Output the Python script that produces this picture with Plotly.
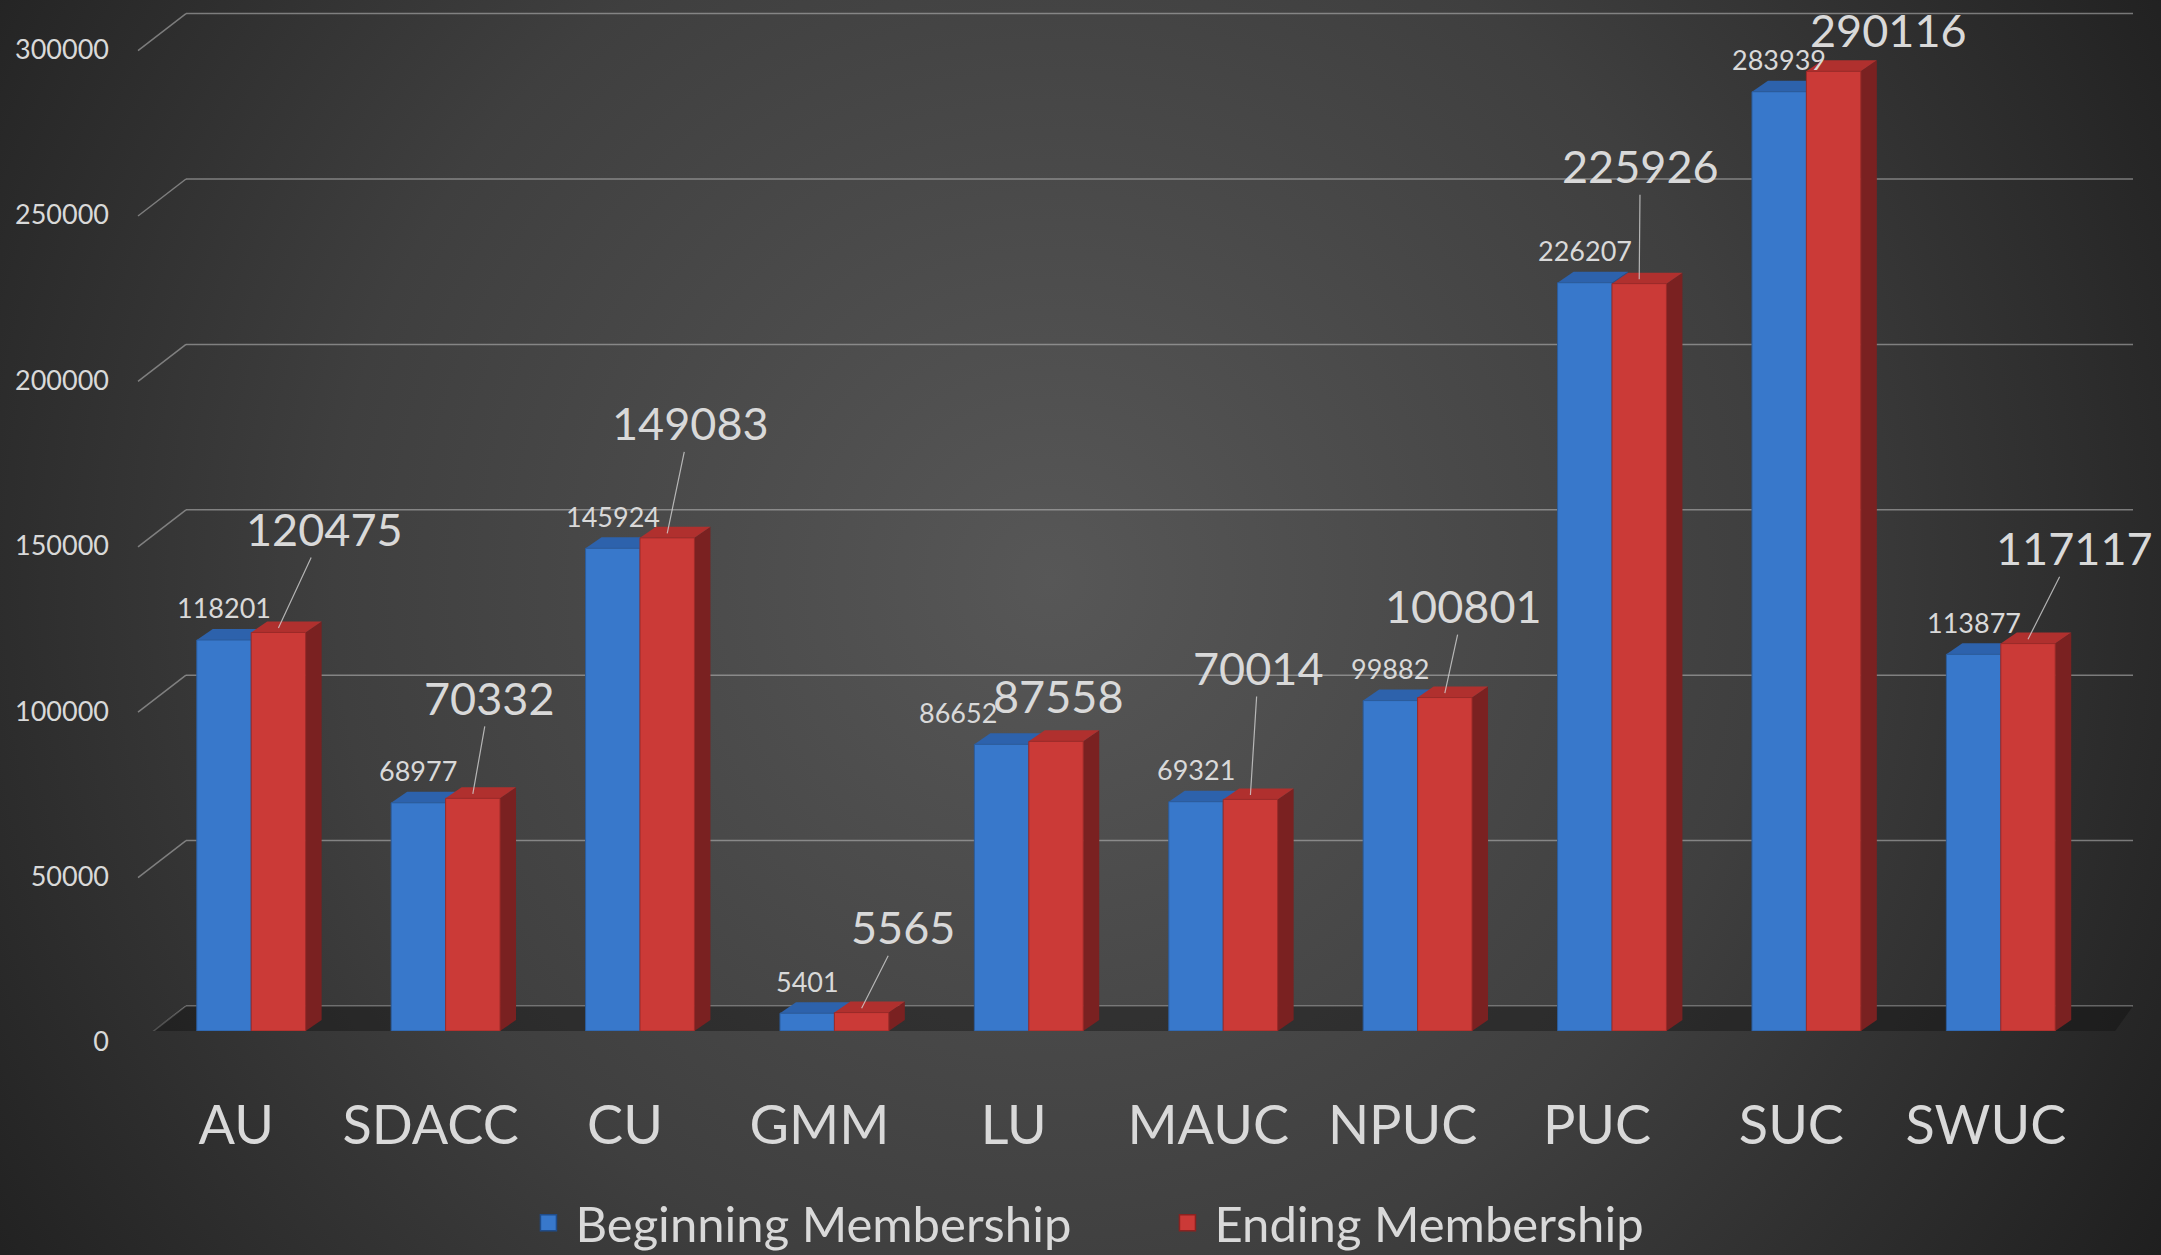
import base64
import plotly.graph_objects as go

# data
categories = ["AU", "SDACC", "CU", "GMM", "LU", "MAUC", "NPUC", "PUC", "SUC", "SWUC"]
beginning = [118201, 68977, 145924, 5401, 86652, 69321, 99882, 226207, 283939, 113877]
ending = [120475, 70332, 149083, 5565, 87558, 70014, 100801, 225926, 290116, 117117]
y_ticks = [0, 50000, 100000, 150000, 200000, 250000, 300000]

# page geometry (pixels)
W, H = 2161, 1255
XL, XR = 154, 2098          # front plot edges
Y0, PX50K = 1031, 165.4     # pixel of value 0, pixels per 50000
YMAX = 310000
YTOP = Y0 - YMAX * PX50K / 50000
px_x = (XR - XL) / len(categories)
px_y = PX50K / 50000
DX, DY = 16, 11             # 3d depth of bars in px
dxu, dyu = DX / px_x, DY / px_y
HALF = 0.14                 # half-offset of each bar in a group

BLUE, BLUE_TOP, BLUE_SIDE = "#3878CB", "#2D62AC", "#244F8C"
RED, RED_TOP, RED_SIDE = "#CB3A37", "#B0302E", "#7A2121"
TXT = "#d9d9d9"
FONT = "Lato"

# radial background
svg = f'''<svg xmlns="http://www.w3.org/2000/svg" width="{W}" height="{H}">
<defs><radialGradient id="g" gradientUnits="userSpaceOnUse" cx="1050" cy="580" r="1300">
<stop offset="0" stop-color="#575757"/><stop offset="0.55" stop-color="#3f3f3f"/>
<stop offset="1" stop-color="#1f1f1f"/></radialGradient></defs>
<rect width="{W}" height="{H}" fill="url(#g)"/></svg>'''
bg_src = "data:image/svg+xml;base64," + base64.b64encode(svg.encode()).decode()

idx = list(range(len(categories)))

fig = go.Figure()
fig.add_trace(go.Bar(x=idx, y=beginning, name="Beginning Membership", showlegend=False,
                     marker=dict(color=BLUE, line=dict(color="#2b5c9c", width=1))))
fig.add_trace(go.Bar(x=idx, y=ending, name="Ending Membership", showlegend=False,
                     marker=dict(color=RED, line=dict(color="#9c2a28", width=1))))
# legend-only entries with bigger square symbols
for name, col, edge in (("Beginning Membership", BLUE, "#1f4c8a"),
                        ("Ending Membership", RED, "#8a2220")):
    fig.add_trace(go.Scatter(x=[None], y=[None], mode="markers", name=name,
                             marker=dict(symbol="square", size=22, color=col,
                                         line=dict(color=edge, width=1.5))))

shapes = []
# back wall gridlines + diagonal connectors
back_x0, back_x1, front_x0 = 186 / W, 2133 / W, 138 / W
for v in y_ticks:
    shapes.append(dict(type="line", xref="paper", yref="y", layer="below",
                       x0=back_x0, x1=back_x1, y0=v + 25 / px_y, y1=v + 25 / px_y,
                       line=dict(color="rgba(190,190,190,0.55)", width=1.5)))
    shapes.append(dict(type="line", xref="paper", yref="y", layer="below",
                       x0=front_x0, x1=back_x0, y0=v - 12 / px_y, y1=v + 25 / px_y,
                       line=dict(color="rgba(190,190,190,0.55)", width=1.5)))
# floor
shapes.append(dict(type="path", xref="paper", yref="y", layer="below",
                   path=f"M {back_x0},{25 / px_y} L {back_x1},{25 / px_y} "
                        f"L {2108 / W},{-10 / px_y} L {front_x0},{-10 / px_y} Z",
                   fillcolor="rgba(15,15,15,0.4)", line=dict(width=0)))

# side and top faces of the bars
for i in idx:
    for vals, off, top_c, side_c in ((beginning, -HALF, BLUE_TOP, BLUE_SIDE),
                                     (ending, HALF, RED_TOP, RED_SIDE)):
        v = vals[i]
        xl, xr = i + off - HALF, i + off + HALF
        shapes.append(dict(type="path", xref="x", yref="y", layer="below",
                           path=f"M {xr},0 L {xr + dxu},{dyu} L {xr + dxu},{v + dyu} L {xr},{v} Z",
                           fillcolor=side_c, line=dict(width=0)))
        shapes.append(dict(type="path", xref="x", yref="y", layer="below",
                           path=f"M {xl},{v} L {xr},{v} L {xr + dxu},{v + dyu} L {xl + dxu},{v + dyu} Z",
                           fillcolor=top_c, line=dict(width=0)))

# label placement (pixel offsets from the bar top)
blue_dx = [0, 0, 0, 0, -44, 0, 0, 0, 0, 0]
red_off = [(46, -99), (17, -96), (23, -110), (41, -81), (2, -45),
           (8, -127), (19, -87), (1, -113), (55, -41), (46, -91)]
red_leader = [True, True, True, True, False, True, True, True, False, True]

annotations = []
for i in idx:
    annotations.append(dict(x=i - HALF, y=beginning[i], xref="x", yref="y",
                            text=str(beginning[i]), showarrow=False,
                            xshift=blue_dx[i], yshift=32,
                            font=dict(family=FONT, size=27, color=TXT)))
    ax, ay = red_off[i]
    if red_leader[i]:
        annotations.append(dict(x=i + HALF, y=ending[i] + dyu * 0.4, xref="x", yref="y",
                                text=str(ending[i]), showarrow=True, arrowhead=0,
                                arrowwidth=1.2, arrowcolor="rgba(210,210,210,0.8)",
                                ax=ax, ay=ay, standoff=0,
                                font=dict(family=FONT, size=45, color=TXT)))
    else:
        annotations.append(dict(x=i + HALF, y=ending[i], xref="x", yref="y",
                                text=str(ending[i]), showarrow=False,
                                xshift=ax, yshift=-ay,
                                font=dict(family=FONT, size=45, color=TXT)))

fig.update_layout(
    template="none",
    width=W, height=H,
    margin=dict(l=0, r=0, t=0, b=0, autoexpand=False),
    paper_bgcolor="#2b2b2b",
    plot_bgcolor="rgba(0,0,0,0)",
    barmode="group", bargap=0.44, bargroupgap=0,
    font=dict(family=FONT, color=TXT),
    images=[dict(source=bg_src, xref="paper", yref="paper", x=0, y=1,
                 sizex=1, sizey=1, sizing="stretch", layer="below")],
    shapes=shapes,
    annotations=annotations,
    xaxis=dict(domain=[XL / W, XR / W], range=[-0.5, len(categories) - 0.5],
               tickmode="array", tickvals=idx, ticktext=categories,
               tickfont=dict(size=54, color=TXT), ticklabelstandoff=58,
               ticklabelshift=-15, showgrid=False, zeroline=False,
               showline=False, ticks="", automargin=False),
    yaxis=dict(domain=[(H - Y0) / H, (H - YTOP) / H], range=[0, YMAX],
               tickmode="array", tickvals=y_ticks, tickformat="d",
               tickfont=dict(size=27, color=TXT), ticklabelstandoff=44,
               ticklabelshift=11, showgrid=False, zeroline=False,
               showline=False, ticks="", automargin=False),
    legend=dict(orientation="h", x=0.537, xanchor="center", y=32 / H,
                yanchor="middle", font=dict(size=49, color=TXT),
                itemwidth=44, entrywidth=580, entrywidthmode="pixels",
                bgcolor="rgba(0,0,0,0)"),
    showlegend=True,
)

fig.write_html("out.html", config={"displayModeBar": False},
               post_script="document.body.style.margin='0';"
                           "document.body.style.overflow='hidden';"
                           "document.body.style.background='#1f1f1f';")
